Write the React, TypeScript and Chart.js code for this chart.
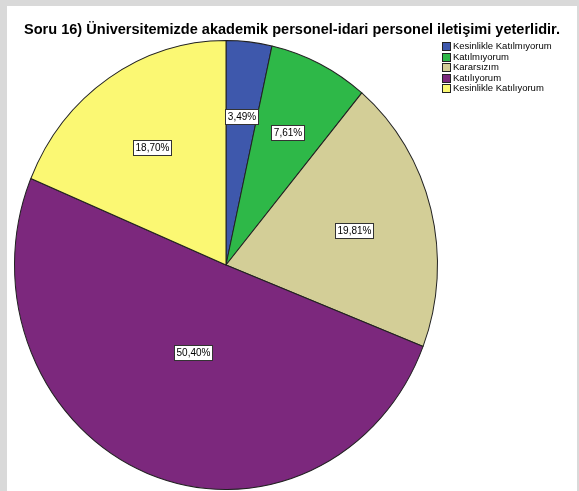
import React, { useEffect, useRef } from "react";
import { Chart, registerables } from "chart.js";

Chart.register(...registerables);

const TITLE = "Soru 16) Üniversitemizde akademik personel-idari personel iletişimi yeterlidir.";
const categories = [
  "Kesinlikle Katılmıyorum",
  "Katılmıyorum",
  "Kararsızım",
  "Katılıyorum",
  "Kesinlikle Katılıyorum",
];
const percentages = [3.49, 7.61, 19.81, 50.4, 18.7];
const colors = ["#3E58AC", "#2EB848", "#D3CE97", "#7C287D", "#FBF873"];

const W = 570;
const H = 485;
const SCALE_Y = 225 / 212;

const fmt = (v: number) => v.toFixed(2).replace(".", ",") + "%";

const ellipsePlugin = {
  id: "ellipse",
  beforeDatasetsDraw(chart: any) {
    const a = chart.getDatasetMeta(0).data[0];
    if (!a) return;
    const ctx = chart.ctx;
    ctx.save();
    ctx.translate(a.x, a.y);
    ctx.scale(1, SCALE_Y);
    ctx.translate(-a.x, -a.y);
  },
  afterDatasetsDraw(chart: any) {
    chart.ctx.restore();
  },
};

const decorPlugin = {
  id: "decor",
  afterDraw(chart: any) {
    const ctx = chart.ctx as CanvasRenderingContext2D;
    // title
    ctx.save();
    ctx.font = "bold 15px 'Liberation Sans', Arial, sans-serif";
    ctx.fillStyle = "#000";
    ctx.textBaseline = "alphabetic";
    const tw = ctx.measureText(TITLE).width;
    const sx = 536 / tw;
    ctx.translate(W / 2, 28);
    ctx.scale(sx, 1);
    ctx.textAlign = "center";
    ctx.fillText(TITLE, 0, 0);
    ctx.restore();

    // slice labels at sector centroids
    const meta = chart.getDatasetMeta(0);
    const ds = chart.data.datasets[0];
    ctx.save();
    ctx.font = "10px 'Liberation Sans', Arial, sans-serif";
    ctx.textAlign = "center";
    ctx.textBaseline = "middle";
    meta.data.forEach((arc: any, i: number) => {
      const p = arc.getProps(["x", "y", "startAngle", "endAngle", "outerRadius"], true);
      const theta = p.endAngle - p.startAngle;
      const mid = (p.startAngle + p.endAngle) / 2;
      const r = (4 * p.outerRadius * Math.sin(theta / 2)) / (3 * theta);
      const px = p.x + Math.cos(mid) * r;
      const py = p.y + Math.sin(mid) * r * SCALE_Y;
      const text = fmt(ds.data[i]);
      const w = Math.ceil(ctx.measureText(text).width) + 4;
      const h = 15;
      const bx = Math.round(px - w / 2) + 0.5;
      const by = Math.round(py - h / 2) + 0.5;
      ctx.fillStyle = "#fff";
      ctx.fillRect(bx, by, w, h);
      ctx.strokeStyle = "#333";
      ctx.lineWidth = 1;
      ctx.strokeRect(bx, by, w, h);
      ctx.fillStyle = "#000";
      ctx.fillText(text, bx + w / 2, by + h / 2 + 0.5);
    });
    ctx.restore();

    // legend
    ctx.save();
    ctx.font = "9.5px 'Liberation Sans', Arial, sans-serif";
    ctx.textBaseline = "middle";
    ctx.textAlign = "left";
    const lx = 435;
    const ly0 = 40;
    const step = 10.5;
    chart.data.labels.forEach((lab: string, i: number) => {
      const cy = ly0 + i * step;
      const by = Math.round(cy - 4) + 0.5;
      ctx.fillStyle = colors[i];
      ctx.fillRect(lx + 0.5, by, 8, 8);
      ctx.strokeStyle = "#222";
      ctx.lineWidth = 1;
      ctx.strokeRect(lx + 0.5, by, 8, 8);
      ctx.fillStyle = "#000";
      ctx.fillText(lab, lx + 11, cy + 0.5);
    });
    ctx.restore();
  },
};

export default function App() {
  const ref = useRef<HTMLCanvasElement | null>(null);
  useEffect(() => {
    if (!ref.current) return;
    const chart = new Chart(ref.current, {
      type: "pie",
      data: {
        labels: categories,
        datasets: [
          {
            data: percentages,
            backgroundColor: colors,
            borderColor: "#222",
            borderWidth: 1,
          },
        ],
      },
      options: {
        responsive: false,
        animation: false,
        devicePixelRatio: 1,
        layout: { padding: { left: 7, right: 139, top: 47, bottom: 14 } },
        plugins: {
          legend: { display: false },
          tooltip: { enabled: false },
          title: { display: false },
        },
      },
      plugins: [ellipsePlugin, decorPlugin],
    });
    return () => chart.destroy();
  }, []);
  return (
    <div
      style={{
        position: "fixed",
        left: 0,
        top: 0,
        width: 579,
        height: 491,
        background: "#d9d9d9",
        overflow: "hidden",
      }}
    >
      <div
        style={{
          position: "absolute",
          left: 7,
          top: 6,
          width: W,
          height: H,
          background: "#fff",
        }}
      >
        <canvas ref={ref} width={W} height={H} style={{ width: W, height: H, display: "block" }} />
      </div>
    </div>
  );
}
